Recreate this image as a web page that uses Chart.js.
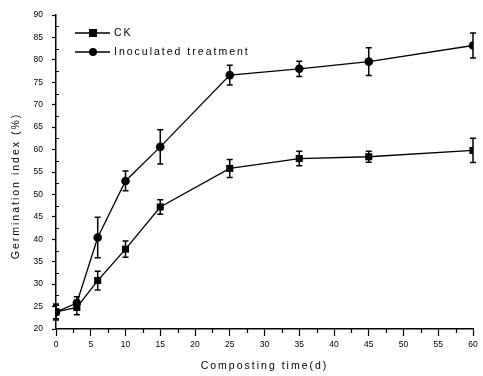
<!DOCTYPE html>
<html lang="en">
<head>
<meta charset="UTF-8">
<title>Germination index</title>
<script src="https://cdn.jsdelivr.net/npm/chart.js"></script>
<style>
  html, body { margin: 0; padding: 0; background: #fff; }
  #wrap { width: 483px; height: 376px; position: relative; }
</style>
</head>
<body>
<div id="wrap"><canvas id="chart" width="483" height="376"></canvas></div>
<script>
// composting days
const days = [0, 3, 6, 10, 15, 25, 35, 45, 60];

// germination index (%)
const ckValues = [23.8, 24.8, 30.8, 37.8, 47.2, 55.8, 58.0, 58.4, 59.8];
const ckErrors = [1.5, 1.6, 2.1, 1.8, 1.6, 2.0, 1.6, 1.2, 2.7];
const inocValues = [23.8, 25.8, 40.4, 53.0, 60.6, 76.6, 78.0, 79.6, 83.2];
const inocErrors = [1.8, 1.4, 4.5, 2.2, 3.8, 2.2, 1.7, 3.1, 2.8];

const seriesNames = ['CK', 'Inoculated treatment'];
const xTitle = 'Composting time(d)';
const yTitle = 'Germination index (%)';
const xTicks = [0, 5, 10, 15, 20, 25, 30, 35, 40, 45, 50, 55, 60];
const yTicks = [20, 25, 30, 35, 40, 45, 50, 55, 60, 65, 70, 75, 80, 85, 90];

const FONT = 'Liberation Sans, Arial, sans-serif';

// error bars, minor ticks, titles and legend drawn on top of the chart
const extras = {
  id: 'extras',
  afterDatasetsDraw(chart) {
    const ctx = chart.ctx;
    const xs = chart.scales.x, ys = chart.scales.y;
    const errs = [ckErrors, inocErrors];
    ctx.save();
    ctx.strokeStyle = '#000';
    ctx.lineWidth = 1.5;
    chart.data.datasets.forEach((ds, i) => {
      ds.data.forEach((p, j) => {
        const px = xs.getPixelForValue(p.x);
        const top = ys.getPixelForValue(p.y + errs[i][j]);
        const bot = ys.getPixelForValue(p.y - errs[i][j]);
        ctx.beginPath();
        ctx.moveTo(px, top); ctx.lineTo(px, bot);
        ctx.moveTo(px - 3, top); ctx.lineTo(px + 3, top);
        ctx.moveTo(px - 3, bot); ctx.lineTo(px + 3, bot);
        ctx.stroke();
      });
    });
    ctx.restore();
  },
  afterDraw(chart) {
    const ctx = chart.ctx;
    const xs = chart.scales.x, ys = chart.scales.y;
    const area = chart.chartArea;
    ctx.save();
    ctx.strokeStyle = '#000';
    ctx.lineWidth = 1.2;
    ctx.beginPath();
    for (let v = 2.5; v < 60; v += 5) {
      const px = Math.round(xs.getPixelForValue(v)) + 0.5;
      ctx.moveTo(px, area.bottom); ctx.lineTo(px, area.bottom + 4);
    }
    for (let v = 22.5; v < 90; v += 5) {
      const py = Math.round(ys.getPixelForValue(v)) + 0.5;
      ctx.moveTo(area.left, py); ctx.lineTo(area.left + 3, py);
    }
    ctx.stroke();

    ctx.fillStyle = '#000';
    ctx.font = '10.5px ' + FONT;
    ctx.letterSpacing = '2px';

    // axis titles
    ctx.textAlign = 'center';
    ctx.textBaseline = 'middle';
    ctx.fillText(xTitle, (area.left + area.right) / 2, 366);
    ctx.save();
    ctx.translate(16, (area.top + area.bottom) / 2 + 14);
    ctx.rotate(-Math.PI / 2);
    ctx.fillText(yTitle, 0, 0);
    ctx.restore();

    // legend
    const rows = [{ y: 33, style: 'rect' }, { y: 52, style: 'circle' }];
    ctx.textAlign = 'left';
    rows.forEach((r, i) => {
      ctx.lineWidth = 1.5;
      ctx.beginPath();
      ctx.moveTo(75, r.y); ctx.lineTo(110, r.y);
      ctx.stroke();
      if (r.style === 'rect') {
        ctx.fillRect(89, r.y - 4, 8, 8);
      } else {
        ctx.beginPath();
        ctx.arc(93, r.y, 4, 0, Math.PI * 2);
        ctx.fill();
      }
      ctx.fillText(seriesNames[i], 114, r.y);
    });
    ctx.restore();
  }
};

new Chart(document.getElementById('chart'), {
  type: 'line',
  data: {
    datasets: [
      {
        label: seriesNames[0],
        data: days.map((d, i) => ({ x: d, y: ckValues[i] })),
        borderColor: '#000',
        backgroundColor: '#000',
        borderWidth: 1.3,
        pointStyle: 'rect',
        pointRadius: 5,
        pointBorderWidth: 0,
        tension: 0
      },
      {
        label: seriesNames[1],
        data: days.map((d, i) => ({ x: d, y: inocValues[i] })),
        borderColor: '#000',
        backgroundColor: '#000',
        borderWidth: 1.3,
        pointStyle: 'circle',
        pointRadius: 4.3,
        pointBorderWidth: 0,
        tension: 0
      }
    ]
  },
  options: {
    responsive: false,
    animation: false,
    layout: { padding: { top: 15, right: 10, left: 0, bottom: 0 } },
    plugins: { legend: { display: false }, tooltip: { enabled: false } },
    scales: {
      x: {
        type: 'linear',
        min: 0, max: 60,
        afterBuildTicks: s => { s.ticks = xTicks.map(v => ({ value: v })); },
        afterFit: s => { s.height = 47; },
        border: { color: '#000', width: 1.5 },
        grid: { drawOnChartArea: false, tickLength: 7, tickColor: '#000', tickWidth: 1.2 },
        ticks: { color: '#000', font: { family: FONT, size: 8.5 }, padding: 4, maxRotation: 0 }
      },
      y: {
        min: 20, max: 90,
        afterBuildTicks: s => { s.ticks = yTicks.map(v => ({ value: v })); },
        afterFit: s => { s.width = 56; },
        border: { color: '#000', width: 1.5 },
        grid: { drawOnChartArea: false, tickLength: 4, tickColor: '#000', tickWidth: 1.2 },
        ticks: { color: '#000', font: { family: FONT, size: 8.5 }, padding: 9 }
      }
    }
  },
  plugins: [extras]
});
</script>
</body>
</html>
